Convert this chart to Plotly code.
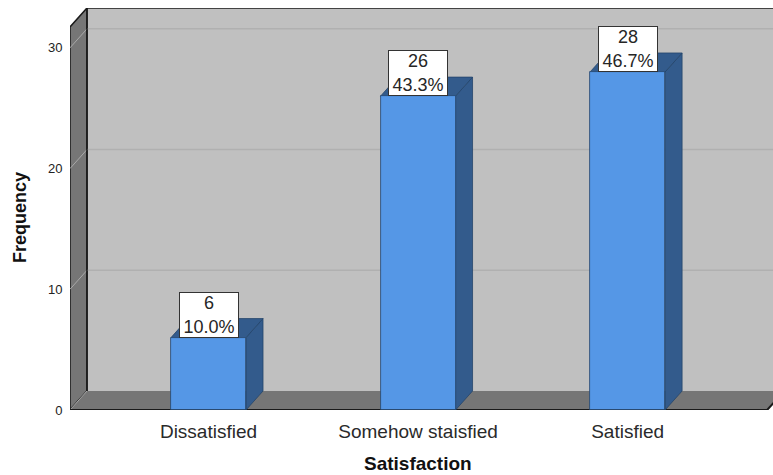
import plotly.graph_objects as go

# Frequency table
categories = ["Dissatisfied", "Somehow staisfied", "Satisfied"]
counts = [6, 26, 28]
y_ticks = [0, 10, 20, 30]

total = sum(counts)
percents = [c / total * 100 for c in counts]

# 3D box geometry (data units)
X_LEFT = -0.661          # front-left edge of the box
X_RIGHT = 2.694          # right end of the visible axis
X_FRONT_RIGHT = 2.666    # front-right corner of the floor
Y_TOP = 31.73            # top of the front plane
DX = 0.0811              # depth offset along x
DY = 1.574               # depth offset along y
BAR_W = 0.358

WALL = "#c0c0c0"
SIDE_WALL = "#767676"
BAR_FRONT = "#5597e6"
BAR_SIDE = "#335b8c"
BAR_EDGE = "#24456b"
FONT = "Liberation Sans, Arial, sans-serif"


def poly(pts):
    return "M " + " L ".join(f"{x},{y}" for x, y in pts) + " Z"


shapes = []
# back wall
shapes.append(dict(type="rect", xref="x", yref="y", layer="below",
                   x0=X_LEFT + DX, x1=X_RIGHT + 1, y0=DY, y1=Y_TOP + DY,
                   fillcolor=WALL, line=dict(width=0)))
# left wall
shapes.append(dict(type="path", xref="x", yref="y", layer="below",
                   path=poly([(X_LEFT, 0), (X_LEFT, Y_TOP), (X_LEFT + DX, Y_TOP + DY), (X_LEFT + DX, DY)]),
                   fillcolor=SIDE_WALL, line=dict(color="#1a1a1a", width=1.5)))
# floor
shapes.append(dict(type="path", xref="x", yref="y", layer="below",
                   path=poly([(X_LEFT, 0), (X_FRONT_RIGHT, 0), (X_FRONT_RIGHT + DX, DY), (X_LEFT + DX, DY)]),
                   fillcolor=SIDE_WALL, line=dict(width=0)))
# grid lines: across the back wall and diagonally over the left wall
for v in y_ticks:
    if v > 0:
        shapes.append(dict(type="line", xref="x", yref="y", layer="below",
                           x0=X_LEFT + DX, x1=X_RIGHT + 1, y0=v + DY, y1=v + DY,
                           line=dict(color="#b0b0b0", width=1.5)))
    shapes.append(dict(type="line", xref="x", yref="y", layer="below",
                       x0=X_LEFT, x1=X_LEFT + DX, y0=v, y1=v + DY,
                       line=dict(color="#a9a9a9", width=1)))
# back wall outline (top and left edges)
shapes.append(dict(type="line", xref="x", yref="y", layer="below",
                   x0=X_LEFT + DX, x1=X_RIGHT + 1, y0=Y_TOP + DY, y1=Y_TOP + DY,
                   line=dict(color="#1a1a1a", width=1.5)))
shapes.append(dict(type="line", xref="x", yref="y", layer="below",
                   x0=X_LEFT + DX, x1=X_LEFT + DX, y0=DY, y1=Y_TOP + DY,
                   line=dict(color="#1a1a1a", width=1.5)))
# floor front edge and right end
shapes.append(dict(type="path", xref="x", yref="y", layer="below",
                   path=f"M {X_LEFT},0 L {X_FRONT_RIGHT},0 L {X_FRONT_RIGHT + DX},{DY}",
                   line=dict(color="#1a1a1a", width=2)))

# bar depth faces (top and right side)
for i, v in enumerate(counts):
    xl, xr = i - BAR_W / 2, i + BAR_W / 2
    shapes.append(dict(type="path", xref="x", yref="y", layer="below",
                       path=poly([(xr, 0), (xr + DX, DY), (xr + DX, v + DY), (xr, v)]),
                       fillcolor=BAR_SIDE, line=dict(color=BAR_EDGE, width=0.8)))
    shapes.append(dict(type="path", xref="x", yref="y", layer="below",
                       path=poly([(xl, v), (xl + DX, v + DY), (xr + DX, v + DY), (xr, v)]),
                       fillcolor=BAR_SIDE, line=dict(color=BAR_EDGE, width=0.8)))

fig = go.Figure()
fig.add_trace(go.Bar(
    x=list(range(len(categories))), y=counts, width=BAR_W,
    marker=dict(color=BAR_FRONT, line=dict(color=BAR_EDGE, width=0.8)),
    hoverinfo="skip", showlegend=False,
))

annotations = []
for i, (v, p) in enumerate(zip(counts, percents)):
    annotations.append(dict(
        x=i, y=v, xref="x", yref="y", xanchor="center", yanchor="bottom",
        text=f"{v}<br>{p:.1f}%", showarrow=False, align="center",
        width=58, height=44, bgcolor="white", bordercolor="#333333",
        borderwidth=1, borderpad=0,
        font=dict(family=FONT, size=18, color="#262626"),
    ))

PLOT_W, PLOT_H, M_L, M_T = 703, 402, 70, 8
annotations.append(dict(
    text="<b>Frequency</b>", textangle=-90, showarrow=False,
    xref="paper", yref="paper", x=(20 - M_L) / PLOT_W, y=(M_T + PLOT_H - 218) / PLOT_H,
    xanchor="center", yanchor="middle",
    font=dict(family=FONT, size=18, color="#111111"),
))
annotations.append(dict(
    text="<b>Satisfaction</b>", showarrow=False,
    xref="paper", yref="paper", x=(418 - M_L) / PLOT_W, y=(M_T + PLOT_H - 463) / PLOT_H,
    xanchor="center", yanchor="middle",
    font=dict(family=FONT, size=19, color="#111111"),
))

fig.update_layout(
    width=773, height=475,
    margin=dict(l=M_L, r=0, t=M_T, b=65),
    paper_bgcolor="white", plot_bgcolor="white",
    shapes=shapes, annotations=annotations,
    xaxis=dict(range=[X_LEFT, X_RIGHT], tickmode="array",
               tickvals=list(range(len(categories))), ticktext=categories,
               showgrid=False, zeroline=False, showline=False,
               ticks="outside", ticklen=4, tickcolor="rgba(0,0,0,0)",
               tickfont=dict(family=FONT, size=19, color="#2a2a2a")),
    yaxis=dict(range=[0, 33.3], tickmode="array", tickvals=y_ticks,
               showgrid=False, zeroline=False, showline=False,
               ticks="outside", ticklen=4, tickcolor="rgba(0,0,0,0)",
               tickfont=dict(family=FONT, size=13, color="#222222")),
    bargap=0,
)

fig.write_html("out.html")
